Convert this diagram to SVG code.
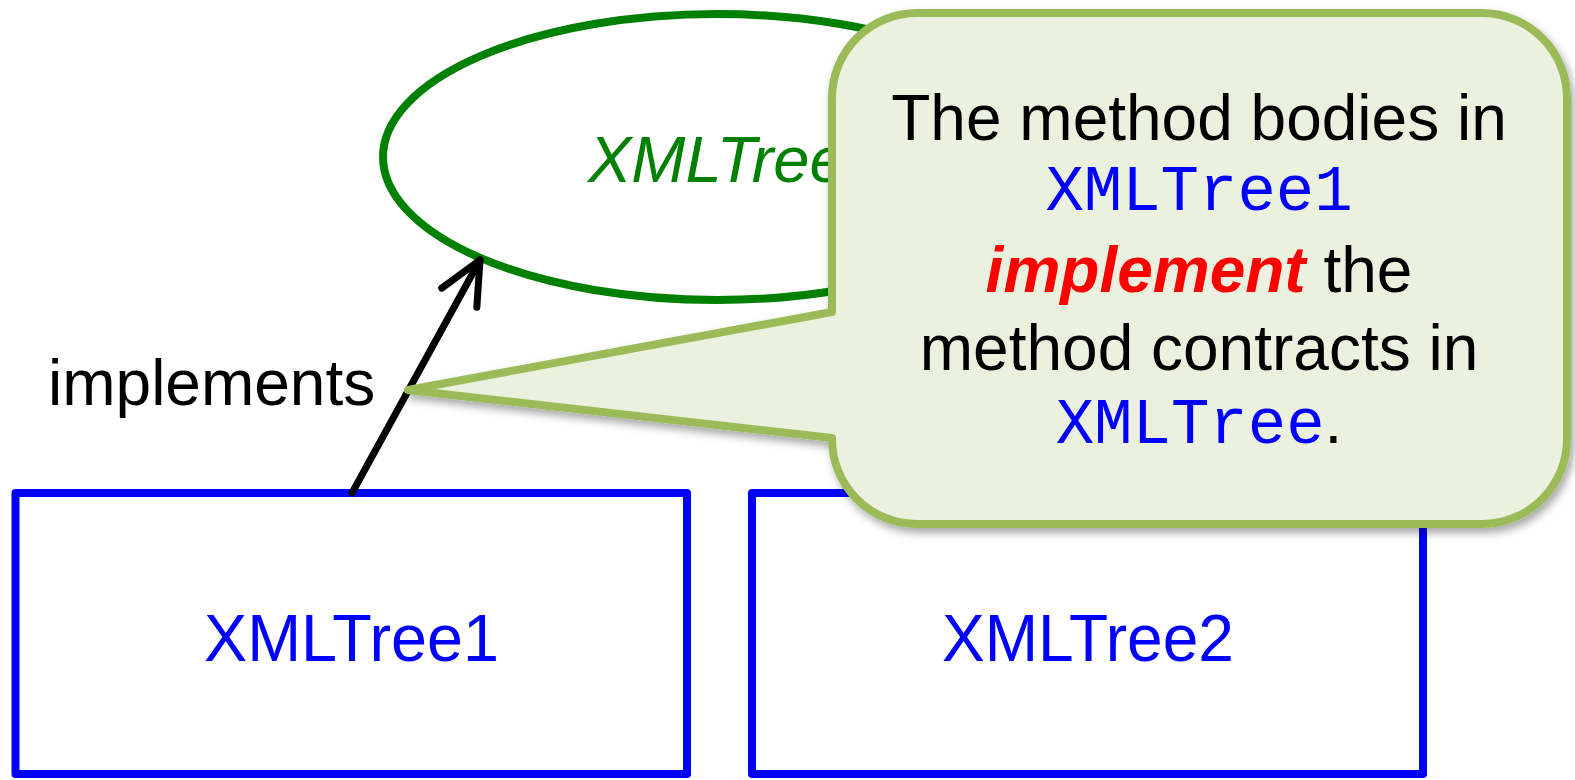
<svg xmlns="http://www.w3.org/2000/svg" width="1575" height="780" viewBox="0 0 1575 780">
  <style>
    .sans { font-family: "Liberation Sans", Arial, sans-serif; }
    .mono { font-family: "Liberation Mono", "Courier New", monospace; }
    .cls-box { fill: #ffffff; stroke: #0000ff; stroke-width: 8; stroke-linejoin: round; }
    .cls-label { fill: #0000ff; font-size: 66px; }
    .iface { fill: #ffffff; stroke: #008000; stroke-width: 8; }
    .edge { fill: none; stroke: #000000; stroke-width: 7; stroke-linecap: round; stroke-linejoin: round; }
    .note { fill: #ebf1de; stroke: #9bbb59; stroke-width: 8; stroke-linejoin: round; }
    .note-text { font-size: 64px; fill: #000000; }
  </style>
  <defs>
    <marker id="open-arrow" markerUnits="userSpaceOnUse" viewBox="-50 -30 60 60" markerWidth="60" markerHeight="60" refX="0" refY="0" orient="auto" overflow="visible">
      <path d="M-43,-20 L0,0 L-43,20" fill="none" stroke="#000000" stroke-width="7" stroke-linecap="round" stroke-linejoin="round"/>
    </marker>
    <filter id="note-shadow" x="-10%" y="-10%" width="125%" height="130%">
      <feDropShadow dx="3" dy="5" stdDeviation="4" flood-color="#000000" flood-opacity="0.35"/>
    </filter>
  </defs>

  <rect width="1575" height="780" fill="#ffffff"/>

  <!-- interface -->
  <g id="node-xmltree">
    <ellipse class="iface" cx="717" cy="157" rx="334" ry="143"/>
    <text class="sans" x="588" y="182" font-size="65" font-style="italic" fill="#008000">XMLTree</text>
  </g>

  <!-- implementations -->
  <g id="node-xmltree1">
    <rect class="cls-box" x="15.5" y="493" width="671.5" height="281"/>
    <text class="sans cls-label" x="204" y="661" textLength="295" lengthAdjust="spacingAndGlyphs">XMLTree1</text>
  </g>
  <g id="node-xmltree2">
    <rect class="cls-box" x="752" y="493" width="671" height="281"/>
    <text class="sans cls-label" x="942" y="661" textLength="292" lengthAdjust="spacingAndGlyphs">XMLTree2</text>
  </g>

  <!-- connectors -->
  <g id="connectors">
    <path class="edge" d="M352,493 L480,260" marker-end="url(#open-arrow)"/>
    <text class="sans" x="48" y="405" font-size="64" fill="#000000">implements</text>
  </g>

  <!-- callout -->
  <g id="node-callout">
    <path class="note" filter="url(#note-shadow)" d="M917,13 H1482 A85,85 0 0 1 1567,98 V439 A85,85 0 0 1 1482,524 H917 A85,85 0 0 1 832,439 L832,438 L408,390 L832,312 V98 A85,85 0 0 1 917,13 Z"/>
    <text class="sans note-text" x="1199" y="140" text-anchor="middle">The method bodies in</text>
    <text class="mono" x="1199" y="210" text-anchor="middle" font-size="64" fill="#0000ff">XMLTree1</text>
    <text class="sans note-text" x="1199" y="292" text-anchor="middle"><tspan font-weight="bold" font-style="italic" fill="#ff0000">implement</tspan> the</text>
    <text class="sans note-text" x="1199" y="370" text-anchor="middle">method contracts in</text>
    <text x="1199" y="443" text-anchor="middle" font-size="64"><tspan class="mono" fill="#0000ff">XMLTree</tspan><tspan class="sans" fill="#000000">.</tspan></text>
  </g>
</svg>
